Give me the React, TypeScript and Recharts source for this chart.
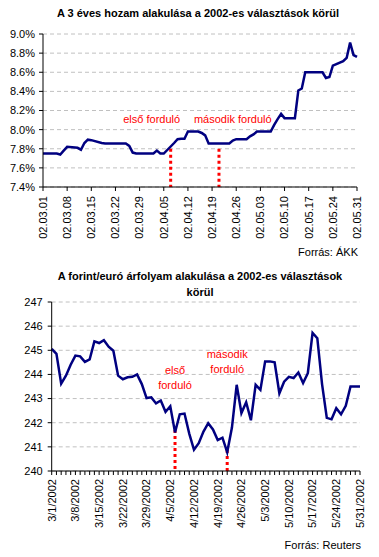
import { CartesianGrid, Line, LineChart, ReferenceDot, ReferenceLine, XAxis, YAxis } from 'recharts'

const FONT = '"Liberation Sans", Arial, sans-serif'
const NAVY = '#000080'
const RED = '#ff0000'

// 3 éves hozam: napok 2002.03.01-től számolva (munkanapok), értékek %-ban
const yieldDays = [
  0, 3, 4, 5, 6, 7, 10, 11, 12, 13, 14, 17, 18, 19, 20, 21, 24, 25, 26, 27, 28, 31, 32, 33, 34, 35,
  38, 39, 40, 41, 42, 45, 46, 47, 48, 49, 52, 53, 54, 55, 56, 59, 60, 61, 62, 63, 66, 67, 68, 69,
  70, 73, 74, 75, 76, 77, 80, 81, 82, 83, 84, 87, 88, 89, 90, 91,
]
const yieldValues = [
  7.75, 7.75, 7.75, 7.74, 7.78, 7.82, 7.81, 7.79, 7.86, 7.895, 7.89, 7.86, 7.855, 7.855, 7.855,
  7.855, 7.855, 7.83, 7.76, 7.75, 7.75, 7.75, 7.75, 7.78, 7.75, 7.75, 7.86, 7.9, 7.905, 7.905,
  7.98, 7.98, 7.965, 7.94, 7.855, 7.855, 7.855, 7.855, 7.855, 7.885, 7.9, 7.9, 7.93, 7.95, 7.98,
  7.98, 7.98, 8.05, 8.11, 8.165, 8.12, 8.12, 8.41, 8.43, 8.6, 8.6, 8.6, 8.6, 8.54, 8.55, 8.67,
  8.715, 8.75, 8.91, 8.78, 8.76,
]
const yieldTickDays = [0, 7, 14, 21, 28, 35, 42, 49, 56, 63, 70, 77, 84, 91]
const yieldTickLabels = [
  '02.03.01', '02.03.08', '02.03.15', '02.03.22', '02.03.29', '02.04.05', '02.04.12',
  '02.04.19', '02.04.26', '02.05.03', '02.05.10', '02.05.17', '02.05.24', '02.05.31',
]
const yieldTicks = [7.4, 7.6, 7.8, 8.0, 8.2, 8.4, 8.6, 8.8, 9.0]

// forint/euró árfolyam munkanaponként
const fxDates = [
  '3/1/2002', '3/4/2002', '3/5/2002', '3/6/2002', '3/7/2002', '3/8/2002',
  '3/11/2002', '3/12/2002', '3/13/2002', '3/14/2002', '3/15/2002',
  '3/18/2002', '3/19/2002', '3/20/2002', '3/21/2002', '3/22/2002',
  '3/25/2002', '3/26/2002', '3/27/2002', '3/28/2002', '3/29/2002',
  '4/1/2002', '4/2/2002', '4/3/2002', '4/4/2002', '4/5/2002',
  '4/8/2002', '4/9/2002', '4/10/2002', '4/11/2002', '4/12/2002',
  '4/15/2002', '4/16/2002', '4/17/2002', '4/18/2002', '4/19/2002',
  '4/22/2002', '4/23/2002', '4/24/2002', '4/25/2002', '4/26/2002',
  '4/29/2002', '4/30/2002', '5/1/2002', '5/2/2002', '5/3/2002',
  '5/6/2002', '5/7/2002', '5/8/2002', '5/9/2002', '5/10/2002',
  '5/13/2002', '5/14/2002', '5/15/2002', '5/16/2002', '5/17/2002',
  '5/20/2002', '5/21/2002', '5/22/2002', '5/23/2002', '5/24/2002',
  '5/27/2002', '5/28/2002', '5/29/2002', '5/30/2002', '5/31/2002',
]
const fxValues = [
  245.06, 244.85, 243.62, 243.95, 244.4, 244.78, 244.75, 244.52, 244.62, 245.37, 245.3,
  245.42, 245.15, 244.98, 243.95, 243.8, 243.88, 243.9, 244.0, 243.6, 243.02, 243.05,
  242.8, 242.92, 242.45, 242.68, 241.6, 242.35, 242.38, 241.55, 240.88, 241.15, 241.63,
  241.98, 241.72, 241.28, 241.38, 240.78, 241.8, 243.57, 242.4, 242.85, 242.1, 243.57,
  243.36, 244.54, 244.54, 244.5, 243.22, 243.7, 243.9, 243.85, 244.08, 243.64, 244.05,
  245.72, 245.5, 243.6, 242.2, 242.14, 242.6, 242.35, 242.7, 243.5, 243.5, 243.5,
]
const fxTicks = [240, 241, 242, 243, 244, 245, 246, 247]

const yieldData = yieldDays.map((day, i) => ({ day, value: yieldValues[i] }))
const fxData = fxDates.map((date, i) => ({ date, value: fxValues[i] }))

function RotatedTick(props: any) {
  const { x, y, text } = props
  if (!text) return <g />
  return (
    <text
      x={x}
      y={y}
      dy="0.35em"
      textAnchor="end"
      transform={`rotate(-90, ${x}, ${y})`}
      fontSize={11}
      fontFamily={FONT}
      fill="#000"
    >
      {text}
    </text>
  )
}

const tickStyle = { fontSize: 11, fontFamily: FONT, fill: '#000' }
const redLabel = (value: string) => ({ value, position: 'center' as const, fill: RED, fontSize: 11, fontFamily: FONT })

export default function App() {
  return (
    <div style={{ position: 'absolute', left: 0, top: 0, width: 379, height: 557, background: '#fff', fontFamily: FONT }}>
      <div style={{ position: 'absolute', left: 0, top: 7, width: 396, textAlign: 'center', fontSize: 11, fontWeight: 'bold' }}>
        A 3 éves hozam alakulása a 2002-es választások körül
      </div>
      <div style={{ position: 'absolute', left: 0, top: 0 }}>
        <LineChart width={379} height={260} data={yieldData} margin={{ top: 34, right: 22, bottom: 13, left: 0 }}>
          <CartesianGrid vertical={false} stroke="#c0c0c0" strokeDasharray="4 3" />
          <XAxis
            dataKey="day"
            type="number"
            domain={[0, 91]}
            ticks={yieldTickDays}
            interval={0}
            height={60}
            tickSize={4}
            tickMargin={5}
            axisLine={{ stroke: '#000' }}
            tickLine={{ stroke: '#000' }}
            tick={(p: any) => <RotatedTick {...p} text={yieldTickLabels[yieldTickDays.indexOf(p.payload.value)]} />}
          />
          <YAxis
            domain={[7.4, 9.0]}
            ticks={yieldTicks}
            interval={0}
            width={43}
            tickSize={4}
            tickMargin={4}
            axisLine={{ stroke: '#000' }}
            tickLine={{ stroke: '#000' }}
            tick={tickStyle}
            tickFormatter={(v: number) => v.toFixed(1) + '%'}
          />
          <ReferenceLine segment={[{ x: 37, y: 7.8 }, { x: 37, y: 7.4 }]} stroke={RED} strokeWidth={3} strokeDasharray="3 3" />
          <ReferenceLine segment={[{ x: 51, y: 7.8 }, { x: 51, y: 7.4 }]} stroke={RED} strokeWidth={3} strokeDasharray="3 3" />
          <ReferenceDot x={31.5} y={8.11} r={0} fill="none" stroke="none" label={redLabel('első forduló')} />
          <ReferenceDot x={55} y={8.11} r={0} fill="none" stroke="none" label={redLabel('második forduló')} />
          <Line type="linear" dataKey="value" stroke={NAVY} strokeWidth={2.5} dot={false} isAnimationActive={false} />
        </LineChart>
      </div>
      <div style={{ position: 'absolute', right: 21, top: 246, fontSize: 11 }}>Forrás: ÁKK</div>

      <div style={{ position: 'absolute', left: 0, top: 268, width: 400, textAlign: 'center', fontSize: 11, fontWeight: 'bold', lineHeight: '16px' }}>
        A forint/euró árfolyam alakulása a 2002-es választások
        <br />
        körül
      </div>
      <div style={{ position: 'absolute', left: 0, top: 270 }}>
        <LineChart width={379} height={270} data={fxData} margin={{ top: 32, right: 19, bottom: 9, left: 0 }}>
          <CartesianGrid vertical={false} stroke="#c0c0c0" strokeDasharray="4 3" />
          <XAxis
            dataKey="date"
            type="category"
            interval={0}
            height={60}
            tickSize={4}
            tickMargin={4}
            axisLine={{ stroke: '#000' }}
            tickLine={{ stroke: '#000' }}
            tick={(p: any) => <RotatedTick {...p} text={p.index % 5 === 0 ? p.payload.value : ''} />}
          />
          <YAxis
            domain={[240, 247]}
            ticks={fxTicks}
            interval={0}
            width={51.7}
            tickSize={4}
            tickMargin={5}
            axisLine={{ stroke: '#000' }}
            tickLine={{ stroke: '#000' }}
            tick={tickStyle}
          />
          <ReferenceLine segment={[{ x: '4/8/2002', y: 241.7 }, { x: '4/8/2002', y: 240 }]} stroke={RED} strokeWidth={3} strokeDasharray="3 3" />
          <ReferenceLine segment={[{ x: '4/23/2002', y: 240.87 }, { x: '4/23/2002', y: 240 }]} stroke={RED} strokeWidth={3} strokeDasharray="3 3" />
          <ReferenceDot x="4/8/2002" y={244.19} r={0} fill="none" stroke="none" label={redLabel('első')} />
          <ReferenceDot x="4/8/2002" y={243.57} r={0} fill="none" stroke="none" label={redLabel('forduló')} />
          <ReferenceDot x="4/23/2002" y={244.85} r={0} fill="none" stroke="none" label={redLabel('második')} />
          <ReferenceDot x="4/23/2002" y={244.23} r={0} fill="none" stroke="none" label={redLabel('forduló')} />
          <Line type="linear" dataKey="value" stroke={NAVY} strokeWidth={2.5} dot={false} isAnimationActive={false} />
        </LineChart>
      </div>
      <div style={{ position: 'absolute', right: 18, top: 539, fontSize: 11 }}>Forrás: Reuters</div>
    </div>
  )
}
